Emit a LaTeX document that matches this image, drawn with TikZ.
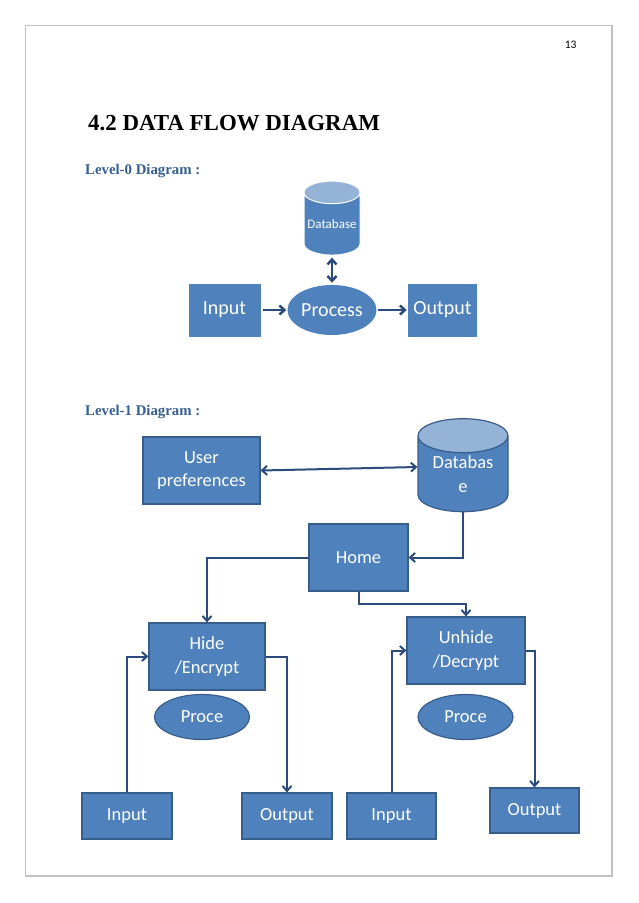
\documentclass[tikz,border=0pt]{standalone}
\usepackage{fontspec}
\setmainfont{Carlito}
\newfontfamily\headfont{Liberation Serif}
\usepackage{tikz}
\usetikzlibrary{shapes.geometric,arrows.meta}
\definecolor{boxblue}{HTML}{4F81BD}
\definecolor{boxedge}{HTML}{385D8A}
\definecolor{dbtop}{HTML}{95B3D7}
\definecolor{linkblue}{HTML}{2A4B7C}
\definecolor{headblue}{HTML}{365F91}
\definecolor{framegray}{HTML}{C0C0C0}
\begin{document}
\begin{tikzpicture}[x=1pt, y=-1pt,
		box_style/.style={rectangle,draw=boxedge,fill=boxblue,text=white,align=center,inner sep=0pt,line width=1.2pt,font=\fontsize{18.5}{23.5}\selectfont},
		flat_style/.style={rectangle,fill=boxblue,text=white,inner sep=0pt,font=\fontsize{20}{24}\selectfont},
		proc_style/.style={ellipse,draw=boxedge,fill=boxblue,text=white,inner sep=0pt,line width=1.2pt,font=\fontsize{18.5}{23}\selectfont},
		db_style/.style={cylinder,shape border rotate=90,cylinder uses custom fill,cylinder body fill=boxblue,cylinder end fill=dbtop,text=white,align=center,inner sep=0pt},
		level_style/.style={anchor=base west,inner sep=0pt,text=headblue,font=\headfont\bfseries\fontsize{14.8}{17}\selectfont},
		edge_style/.style={draw=linkblue,line width=2pt,-{Straight Barb[length=5pt,width=9pt]}},
		both_style/.style={edge_style,{Straight Barb[length=5pt,width=9pt]}-{Straight Barb[length=5pt,width=9pt]}}]
		\useasboundingbox (0,0) rectangle (638,903);
		\draw[framegray,line width=1.3pt] (25.5,25.5) rectangle (612,876);
		\node[font=\fontsize{11.5}{13}\selectfont] (pgno) at (570.7,45) {13};
		\node[anchor=base west,inner sep=0pt,font=\headfont\bfseries\fontsize{22.9}{27}\selectfont] (title) at (88,130) {4.2 DATA FLOW DIAGRAM};
		% level 0
		\node[level_style] (lvl0) at (85,174) {Level-0 Diagram :};
		\node[flat_style,minimum width=72,minimum height=53] (in0) at (224.5,310) {Input};
		\node[flat_style,ellipse,minimum width=89,minimum height=50] (proc0) at (332,310) {Process};
		\node[flat_style,minimum width=69,minimum height=53] (out0) at (442.5,310) {Output};
		\node[db_style,draw=white,line width=1pt,aspect=0.46,minimum width=56,minimum height=74,font=\fontsize{13}{15}\selectfont] (db0) at (332,224) {Database};
		\draw[edge_style,line width=2.5pt,shorten <=2pt,shorten >=1pt] (in0) -- (proc0);
		\draw[edge_style,line width=2.5pt,shorten <=1pt,shorten >=1pt] (proc0) -- (out0);
		\draw[both_style,line width=2.5pt,shorten <=2pt,shorten >=2pt] (db0) -- (proc0);
		% level 1
		\node[level_style] (lvl1) at (85,415) {Level-1 Diagram :};
		\node[box_style,minimum width=117,minimum height=67] (pref) at (201.5,470.5) {User\\preferences};
		\node[db_style,draw=boxedge,line width=1.2pt,aspect=0.56,minimum width=90,minimum height=93,font=\fontsize{18.5}{23.5}\selectfont] (db1) at (463,474) {Databas\\e};
		\node[box_style,minimum width=99,minimum height=67] (home) at (358.5,557.5) {Home};
		\node[box_style,minimum width=116,minimum height=67] (hide) at (207,656.5) {Hide\\/Encrypt};
		\node[box_style,minimum width=118,minimum height=67] (unhide) at (466,650.5) {Unhide\\/Decrypt};
		\node[proc_style,minimum width=95,minimum height=45] (procL) at (202,717) {Proce};
		\node[proc_style,minimum width=95,minimum height=45] (procR) at (465.5,717) {Proce};
		\node[box_style,minimum width=90,minimum height=46] (inL) at (127,816) {Input};
		\node[box_style,minimum width=90,minimum height=46] (outL) at (287,816) {Output};
		\node[box_style,minimum width=89,minimum height=46] (inR) at (391.5,816) {Input};
		\node[box_style,minimum width=89,minimum height=45] (outR) at (534.5,810.5) {Output};
		\draw[both_style] (pref.east) -- ([yshift=7pt]db1.west);
		\draw[edge_style] (db1.south) |- (home.east);
		\draw[edge_style] (home.west) -| (hide.north);
		\draw[edge_style] (home.south) -- ++(0,12) -| (unhide.north);
		\draw[edge_style] (inL.north) |- (hide.west);
		\draw[edge_style] (hide.east) -| (outL.north);
		\draw[edge_style] (inR.north) |- (unhide.west);
		\draw[edge_style] (unhide.east) -| (outR.north);
		\end{tikzpicture}
\end{document}
